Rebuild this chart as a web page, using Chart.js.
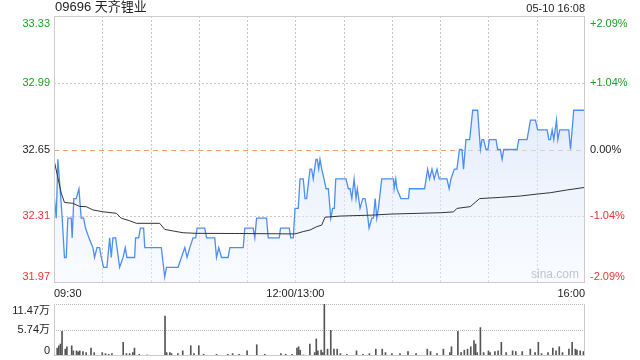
<!DOCTYPE html>
<html lang="zh-CN">
<head>
<meta charset="UTF-8">
<title>09696 天齐锂业</title>
<script src="https://cdn.jsdelivr.net/npm/chart.js"></script>
<style>
  html, body { margin: 0; padding: 0; background: #fff; }
  body { width: 640px; height: 360px; position: relative; overflow: hidden; }
  #price { position: absolute; left: 0; top: 0; }
  #vol { position: absolute; left: 0; top: 300px; }
</style>
</head>
<body>
<canvas id="price" width="640" height="300"></canvas>
<canvas id="vol" width="640" height="60"></canvas>
<script>
// price axis
const priceTicks = [33.33, 32.99, 32.65, 32.31, 31.97];
const pctTicks = ['+2.09%', '+1.04%', '0.00%', '-1.04%', '-2.09%'];
const tickColors = ['#1e9e1e', '#1e9e1e', '#222222', '#ee3333', '#ee3333'];
const timeLabels = ['09:30', '12:00/13:00', '16:00'];
const timeLabelMin = [0, 150, 330];

// minutes since 09:30 (lunch break removed), price
const priceMin = [0.3, 1.4, 2.4, 3.8, 5.1, 6.5, 7.6, 8.6, 10.7, 11.3, 12.3, 13.8, 15.5, 16.9, 18.4, 19.6, 21.7, 24.2, 25.2, 26.7,
  28.3, 29.4, 30.8, 32.9, 34.6, 35.6, 36.6, 38.3, 40.8, 42.9, 44.3, 45.3, 50.1, 50.7, 52.6, 53.7, 55.7, 56.4, 66.7, 68.8,
  69.9, 77.1, 79.2, 81.3, 82.7, 84.4, 86.4, 88.1, 88.9, 93.7, 94.8, 99.9, 101.0, 102.4, 104.1, 108.2, 109.3, 117.6, 118.6, 123.8,
  124.8, 125.9, 132.1, 133.1, 140.0, 140.8, 146.2, 147.1, 148.7, 149.8, 151.8, 152.9, 154.9, 156.0, 157.0, 159.1, 160.1, 161.1, 162.8, 163.6,
  164.5, 165.3, 166.4, 167.8, 169.1, 170.5, 172.0, 173.2, 174.2, 175.1, 181.5, 182.9, 184.0, 185.1, 186.5, 187.7, 188.5, 190.2, 191.9, 193.3,
  194.4, 195.8, 197.5, 198.5, 199.6, 200.6, 201.6, 203.7, 211.0, 211.4, 212.4, 213.1, 215.6, 220.3, 220.9, 230.3, 232.2, 233.4, 234.9, 236.3,
  238.0, 239.4, 244.2, 245.6, 246.7, 248.8, 250.4, 252.0, 253.5, 254.5, 256.0, 258.3, 260.2, 263.3, 265.0, 266.0, 267.0, 268.5, 269.7, 270.5,
  274.7, 275.7, 277.4, 278.5, 279.5, 287.8, 288.8, 294.0, 296.1, 299.2, 300.6, 306.5, 307.5, 308.5, 309.6, 310.6, 312.3, 313.1, 314.3, 319.9,
  321.0, 323.0, 330.0];
const priceVal = [32.40, 32.30, 32.60, 32.45, 32.30, 32.10, 32.10, 32.30, 32.30, 32.20, 32.40, 32.40, 32.45, 32.30, 32.30, 32.25, 32.20, 32.15, 32.10, 32.15,
  32.15, 32.10, 32.05, 32.05, 32.20, 32.10, 32.20, 32.20, 32.05, 32.10, 32.15, 32.10, 32.10, 32.20, 32.20, 32.25, 32.25, 32.15, 32.15, 32.00,
  32.05, 32.05, 32.10, 32.15, 32.10, 32.15, 32.20, 32.20, 32.25, 32.25, 32.20, 32.20, 32.10, 32.15, 32.10, 32.10, 32.15, 32.15, 32.25, 32.25,
  32.20, 32.30, 32.30, 32.20, 32.20, 32.25, 32.25, 32.20, 32.20, 32.35, 32.35, 32.50, 32.50, 32.40, 32.40, 32.55, 32.55, 32.50, 32.60, 32.60,
  32.55, 32.60, 32.55, 32.50, 32.45, 32.45, 32.30, 32.35, 32.35, 32.50, 32.50, 32.45, 32.45, 32.40, 32.50, 32.40, 32.45, 32.35, 32.40, 32.40,
  32.35, 32.25, 32.30, 32.30, 32.40, 32.30, 32.35, 32.50, 32.50, 32.45, 32.50, 32.45, 32.40, 32.40, 32.45, 32.45, 32.55, 32.50, 32.55, 32.50,
  32.55, 32.50, 32.50, 32.45, 32.50, 32.55, 32.55, 32.65, 32.65, 32.55, 32.70, 32.70, 32.85, 32.85, 32.65, 32.70, 32.70, 32.65, 32.65, 32.70,
  32.70, 32.65, 32.65, 32.60, 32.65, 32.65, 32.70, 32.70, 32.80, 32.80, 32.75, 32.75, 32.70, 32.70, 32.75, 32.70, 32.80, 32.70, 32.75, 32.75,
  32.65, 32.85, 32.85];

// average price line
const avgMin = [0.3, 4.5, 6.5, 11.7, 15.9, 20.0, 24.2, 30.4, 38.7, 41.8, 47.0, 51.2, 65.7, 68.8, 74.0, 80.2, 88.5, 115.5, 149.8, 154.9,
  159.1, 163.3, 166.4, 168.4, 177.8, 198.5, 208.9, 240.2, 248.3, 250.4, 258.7, 264.5, 277.4, 289.8, 300.2, 308.5, 318.9, 330.0];
const avgVal = [32.586, 32.428, 32.38, 32.376, 32.36, 32.359, 32.342, 32.333, 32.325, 32.30, 32.287, 32.274, 32.274, 32.243, 32.235, 32.226, 32.223, 32.222, 32.22, 32.232,
  32.24, 32.257, 32.265, 32.305, 32.311, 32.316, 32.321, 32.328, 32.332, 32.35, 32.359, 32.40, 32.406, 32.413, 32.423, 32.43, 32.444, 32.457];

// volume, 万股
const volTicks = [11.47, 5.74, 0];
const volTickLabels = ['11.47万', '5.74万', '0'];
const volMin = [0, 2, 3, 4, 5, 7, 8, 11, 12, 14, 15, 16, 18, 20, 23, 25, 30, 32, 34, 36,
  43, 45, 47, 49, 50, 53, 58, 69, 70, 72, 73, 77, 80, 85, 87, 90, 93, 101, 108, 111,
  115, 120, 126, 131, 141, 144, 148, 151, 152, 153, 155, 159, 162, 163, 164, 166, 167, 168, 170, 172,
  174, 176, 178, 182, 188, 192, 196, 200, 204, 206, 210, 215, 220, 225, 232, 234, 238, 242, 246, 247,
  251, 253, 255, 257, 259, 261, 262, 263, 265, 267, 270, 271, 274, 276, 278, 281, 285, 287, 291, 296,
  299, 301, 303, 307, 310, 312, 314, 316, 320, 322, 324, 325, 327, 329];
const volVal = [2.04, 1.74, 2.26, 2.64, 5.43, 1.51, 2.04, 2.26, 1.13, 1.13, 0.91, 1.13, 0.98, 0.75, 1.74, 0.75, 0.75, 0.53, 0.38, 0.53,
  3.02, 0.53, 0.53, 0.75, 1.74, 0.38, 0.23, 8.83, 0.75, 0.75, 0.53, 0.53, 1.13, 2.26, 0.53, 2.26, 0.38, 0.38, 0.38, 0.53,
  0.38, 1.13, 2.49, 0.38, 0.53, 0.38, 0.38, 1.74, 2.04, 1.28, 0.23, 2.64, 0.75, 3.77, 1.13, 1.28, 0.75, 11.47, 1.51, 5.66,
  1.51, 1.51, 0.53, 0.38, 1.13, 0.38, 0.53, 1.51, 1.51, 0.75, 0.53, 0.53, 0.98, 0.53, 1.51, 0.98, 0.53, 1.51, 0.75, 2.04,
  5.43, 0.75, 1.28, 1.51, 2.04, 3.40, 2.64, 0.75, 6.26, 0.75, 1.13, 0.75, 0.98, 1.13, 3.02, 0.75, 1.13, 0.98, 0.98, 1.51,
  0.75, 3.02, 0.53, 0.75, 1.74, 1.13, 2.04, 0.75, 1.51, 3.02, 1.51, 1.28, 1.13, 0.98];

const FONT = 'Arial, "Liberation Sans", sans-serif';
const CJK = 'Arial, "Liberation Sans", "Noto Sans CJK SC", sans-serif';

Chart.defaults.animation = false;

function toPoints(xs, ys) {
  return xs.map((x, i) => ({ x: x, y: ys[i] }));
}

function dottedLine(ctx, x1, y1, x2, y2, color, dash) {
  ctx.save();
  ctx.strokeStyle = color;
  ctx.lineWidth = 1;
  ctx.setLineDash(dash);
  ctx.beginPath();
  ctx.moveTo(x1, y1);
  ctx.lineTo(x2, y2);
  ctx.stroke();
  ctx.restore();
}

const priceDecor = {
  id: 'priceDecor',
  beforeDatasetsDraw(chart) {
    const { ctx, chartArea: a, scales } = chart;
    // vertical grid every 30 minutes
    for (let m = 30; m < 330; m += 30) {
      const x = Math.round(scales.x.getPixelForValue(m)) + 0.5;
      dottedLine(ctx, x, a.top, x, a.bottom, '#c8c8c8', [2, 2]);
    }
    priceTicks.forEach((v, i) => {
      if (i === 0 || i === priceTicks.length - 1) return;
      const y = Math.round(scales.y.getPixelForValue(v)) + 0.5;
      if (i === 2) dottedLine(ctx, a.left, y, a.right, y, '#f0a070', [5, 4]);
      else dottedLine(ctx, a.left, y, a.right, y, '#c8c8c8', [2, 2]);
    });
  },
  afterDatasetsDraw(chart) {
    const { ctx, chartArea: a, scales } = chart;
    ctx.save();
    ctx.strokeStyle = '#cccccc';
    ctx.lineWidth = 1;
    ctx.strokeRect(Math.round(a.left) + 0.5, Math.round(a.top) + 0.5,
      Math.round(a.right - a.left) - 1, Math.round(a.bottom - a.top) - 1);

    ctx.font = '11px ' + FONT;
    priceTicks.forEach((v, i) => {
      const y = scales.y.getPixelForValue(v);
      let base = 'middle', yy = y;
      if (i === 0) { base = 'top'; yy = y + 2; }
      if (i === priceTicks.length - 1) { base = 'bottom'; yy = y - 1; }
      ctx.textBaseline = base;
      ctx.fillStyle = tickColors[i];
      ctx.textAlign = 'right';
      ctx.fillText(v.toFixed(2), a.left - 4, yy);
      ctx.textAlign = 'left';
      ctx.fillText(pctTicks[i], a.right + 5, yy);
    });

    ctx.fillStyle = '#222';
    ctx.textBaseline = 'top';
    timeLabels.forEach((t, i) => {
      const x = scales.x.getPixelForValue(timeLabelMin[i]);
      ctx.textAlign = i === 0 ? 'left' : (i === timeLabels.length - 1 ? 'right' : 'center');
      ctx.fillText(t, x, a.bottom + 5);
    });

    ctx.fillStyle = '#c4c4c4';
    ctx.font = '12px ' + FONT;
    ctx.textAlign = 'right';
    ctx.textBaseline = 'bottom';
    ctx.fillText('sina.com', a.right - 6, a.bottom - 2);

    ctx.fillStyle = '#222';
    ctx.font = '13px ' + CJK;
    ctx.textAlign = 'left';
    ctx.textBaseline = 'bottom';
    ctx.fillText('09696 天齐锂业', a.left + 1, a.top - 2);
    ctx.font = '11px ' + FONT;
    ctx.textAlign = 'right';
    ctx.fillText('05-10 16:08', a.right, a.top - 2);
    ctx.restore();
  }
};

new Chart(document.getElementById('price'), {
  type: 'line',
  data: {
    datasets: [{
      label: '均价',
      data: toPoints(avgMin, avgVal),
      borderColor: '#333333',
      borderWidth: 1,
      pointRadius: 0,
      fill: false
    }, {
      label: '价格',
      data: toPoints(priceMin, priceVal),
      borderColor: '#4d8ef5',
      borderWidth: 1.3,
      pointRadius: 0,
      fill: 'start',
      backgroundColor: (c) => {
        const a = c.chart.chartArea;
        if (!a) return 'rgba(0,0,0,0)';
        const g = c.chart.ctx.createLinearGradient(0, a.top, 0, a.bottom);
        g.addColorStop(0, 'rgba(196,216,248,0.8)');
        g.addColorStop(1, 'rgba(240,245,254,0.4)');
        return g;
      }
    }]
  },
  options: {
    responsive: false,
    layout: { padding: { left: 54, right: 55, top: 16, bottom: 17 } },
    plugins: { legend: { display: false }, tooltip: { enabled: false } },
    scales: {
      x: { type: 'linear', min: 0, max: 330, display: false },
      y: { min: 31.97, max: 33.33, display: false }
    }
  },
  plugins: [priceDecor]
});

const volDecor = {
  id: 'volDecor',
  beforeDatasetsDraw(chart) {
    const { ctx, chartArea: a, scales } = chart;
    const yTop = Math.round(scales.y.getPixelForValue(volTicks[0])) + 0.5;
    const yMid = Math.round(scales.y.getPixelForValue(volTicks[1])) + 0.5;
    dottedLine(ctx, a.left, yTop, a.right, yTop, '#b8b8b8', [1, 1]);
    dottedLine(ctx, a.left, yMid, a.right, yMid, '#b8b8b8', [1, 1]);
  },
  afterDatasetsDraw(chart) {
    const { ctx, chartArea: a, scales } = chart;
    ctx.save();
    ctx.strokeStyle = '#cccccc';
    ctx.lineWidth = 1;
    const l = Math.round(a.left) + 0.5, r = Math.round(a.right) - 0.5, b = Math.round(a.bottom) - 0.5;
    ctx.beginPath();
    ctx.moveTo(l, a.top); ctx.lineTo(l, b); ctx.lineTo(r, b); ctx.lineTo(r, a.top);
    ctx.stroke();
    ctx.font = '11px ' + CJK;
    ctx.fillStyle = '#222';
    ctx.textAlign = 'right';
    volTicks.forEach((v, i) => {
      const y = scales.y.getPixelForValue(v);
      let base = 'middle', yy = y;
      if (i === 0) { base = 'top'; yy = y + 1; }
      if (i === volTicks.length - 1) { base = 'bottom'; yy = y; }
      ctx.textBaseline = base;
      ctx.fillText(volTickLabels[i], a.left - 4, yy);
    });
    ctx.restore();
  }
};

new Chart(document.getElementById('vol'), {
  type: 'bar',
  data: {
    datasets: [{
      label: '成交量',
      data: toPoints(volMin, volVal),
      backgroundColor: '#555555',
      barThickness: 1,
      grouped: false
    }]
  },
  options: {
    responsive: false,
    layout: { padding: { left: 54, right: 55, top: 4, bottom: 4 } },
    plugins: { legend: { display: false }, tooltip: { enabled: false } },
    scales: {
      x: { type: 'linear', min: 0, max: 330, display: false, offset: false },
      y: { min: 0, max: 11.47, display: false }
    }
  },
  plugins: [volDecor]
});
</script>
</body>
</html>
